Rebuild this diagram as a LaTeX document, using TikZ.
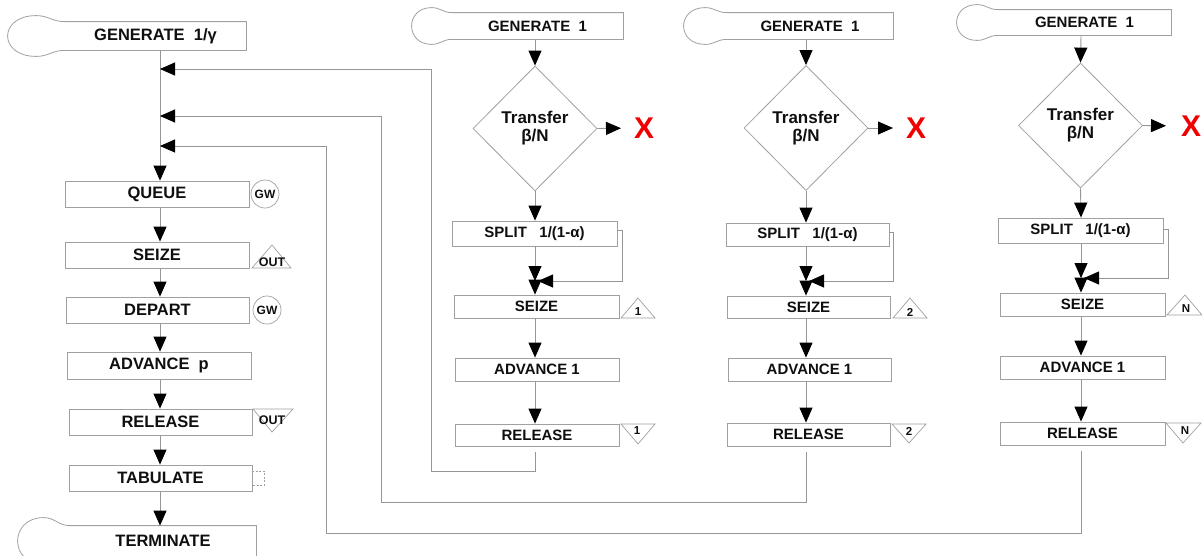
\documentclass[tikz,border=0pt]{standalone}
\usepackage{fontspec}
\setmainfont{Liberation Sans}
\usetikzlibrary{arrows.meta,shapes.geometric,calc}
\definecolor{lgray}{RGB}{150,150,150}
\definecolor{bgray}{RGB}{160,160,160}
\definecolor{tc}{RGB}{15,15,15}
\definecolor{xred}{RGB}{240,0,0}
% #1 node, #2 oval extension to the left, #3 rise of oval above/below box
\newcommand\genoutline[3]{%
  \draw[blkline] (#1.south west) -- (#1.south east) -- (#1.north east) -- (#1.north west)
    .. controls +(-0.22*#2,0) and +(0.22*#2,0) .. ($(#1.north west)+(-0.5*#2,-#3)$)
    .. controls +(-0.667*#2,0) and +(-0.667*#2,0) .. ($(#1.south west)+(-0.5*#2,#3)$)
    .. controls +(0.22*#2,0) and +(-0.22*#2,0) .. (#1.south west);}
\begin{document}
\begin{tikzpicture}[x=1pt,y=-1pt,
  ln/.style={draw=lgray,line width=0.9pt},
  arr/.style={ln,-{Triangle[length=15pt,width=13pt,color=black]}},
  blkline/.style={draw=bgray,line width=0.8pt},
  blk/.style={blkline,fill=white,inner sep=0pt,text=tc},
  mbox/.style={blk,font=\fontsize{16.5}{18}\selectfont\bfseries},
  cbox/.style={blk,font=\fontsize{15}{17}\selectfont\bfseries},
  mgen/.style={mbox,draw=none,fill=none},
  cgen/.style={cbox,draw=none,fill=none},
  dia/.style={blk,diamond,aspect=1,minimum width=124pt,minimum height=125pt,align=center,
    font=\fontsize{17}{18}\selectfont\bfseries},
  redx/.style={text=xred,font=\fontsize{30}{30}\selectfont\bfseries,inner sep=0pt},
  tag/.style={inner sep=0pt,text=tc,font=\fontsize{12.5}{12.5}\selectfont\bfseries},
  ntag/.style={inner sep=0pt,text=tc,font=\fontsize{11.5}{11.5}\selectfont\bfseries},
  tri/.style={draw=bgray,line width=0.7pt},
  gwc/.style={circle,draw=bgray,line width=0.7pt,minimum size=28pt,inner sep=0pt,text=tc,
    font=\fontsize{12}{12}\selectfont\bfseries},
]
\useasboundingbox (0,0) rectangle (1202,555);
\clip (0,0) rectangle (1202,555);

% ---------------- main column ----------------
\node[mgen,minimum width=181pt,minimum height=28pt] (gen) at (155.5,36) {GENERATE~~1/γ};
\genoutline{gen}{57}{6}
\node[mbox,minimum width=184pt,minimum height=26pt] (queue) at (157,194) {QUEUE};
\node[mbox,minimum width=184pt,minimum height=26pt] (seize) at (157,255) {SEIZE};
\node[mbox,minimum width=183pt,minimum height=26pt] (depart) at (157.5,310) {DEPART};
\node[mbox,minimum width=184pt,minimum height=27pt] (adv) at (159,365.5) {ADVANCE~~p};
\node[mbox,minimum width=183pt,minimum height=26pt] (rel) at (160.5,422) {RELEASE};
\node[mbox,minimum width=183pt,minimum height=26pt] (tab) at (160.5,478) {TABULATE};
\node[mgen,minimum width=186pt,minimum height=30pt] (term) at (163,541) {TERMINATE};
\genoutline{term}{52}{8}

\node[gwc] (gw1) at (265,194) {GW};
\node[gwc] (gw2) at (267,310) {GW};
\draw[tri] (252,268) -- (291,268) -- (272,245) -- cycle;
\node[tag] (out1) at (272,262) {OUT};
\draw[tri] (253,409) -- (293,409) -- (272,432) -- cycle;
\node[tag] (out2) at (272,420) {OUT};
\draw[draw=bgray,line width=0.6pt,dash pattern=on 2pt off 1.5pt]
  ($(tab.east)+(0,-7)$) -- ++(12,0) -- ++(0,14) -- ++(-12,0);

\coordinate (mx) at (160,0);
\coordinate (j1) at (160,69);
\coordinate (j2) at (160,116);
\coordinate (j3) at (160,146);

\draw[arr] (gen.south -| mx) -- (queue.north -| mx);
\draw[arr] (queue.south -| mx) -- (seize.north -| mx);
\draw[arr] (seize.south -| mx) -- (depart.north -| mx);
\draw[arr] (depart.south -| mx) -- (adv.north -| mx);
\draw[arr] (adv.south -| mx) -- (rel.north -| mx);
\draw[arr] (rel.south -| mx) -- (tab.north -| mx);
\draw[arr] (tab.south -| mx) -- (term.north -| mx);

% ---------------- column 1 ----------------
\coordinate (c1) at (535,0);
\node[cgen,minimum width=171pt,minimum height=26pt] (gen1) at (537.5,26) {GENERATE~~1};
\genoutline{gen1}{40}{5}
\node[dia] (dia1) at (535,128.5) {Transfer\\β/N};
\node[redx,anchor=west] (x1) at (634,128) {X};
\node[cbox,minimum width=165pt,minimum height=25pt] (split1) at (534.5,233.5) {SPLIT~~~1/(1-α)};
\node[cbox,minimum width=165pt,minimum height=23pt] (seize1) at (536.5,306.5) {SEIZE};
\node[cbox,minimum width=164pt,minimum height=23pt] (adv1) at (537,369.5) {ADVANCE 1};
\node[cbox,minimum width=164pt,minimum height=22pt] (rel1) at (537,435) {RELEASE};
\draw[tri] (621,318) -- (655,318) -- (638,298) -- cycle;
\node[ntag] (t1a) at (638,312) {1};
\draw[tri] (621,424) -- (655,424) -- (638,444) -- cycle;
\node[ntag] (t1b) at (637,431) {1};
\coordinate (m1) at (535,281);
\coordinate (l1) at (622,281);
\coordinate (r1) at (431,471);

\draw[arr] (gen1.south -| c1) -- (dia1.north);
\draw[arr,shorten >=13pt] (dia1.east) -- (x1.west);
\draw[arr] (dia1.south) -- (split1.north -| c1);
\draw[arr] (split1.south -| c1) -- (m1);
\draw[arr,shorten >=3pt] ($(split1.north east)+(0,10)$) -| (l1) -- (m1);
\draw[arr] (m1) -- (seize1.north -| c1);
\draw[arr] (seize1.south -| c1) -- (adv1.north -| c1);
\draw[arr] (adv1.south -| c1) -- (rel1.north -| c1);
\draw[arr,shorten <=6pt] (rel1.south -| c1) -- (c1 |- r1) -- (r1) -- (r1 |- j1) -- (j1);

% ---------------- column 2 ----------------
\coordinate (c2) at (806,0);
\node[cgen,minimum width=166pt,minimum height=26pt] (gen2) at (810,26) {GENERATE~~1};
\genoutline{gen2}{43}{5}
\node[dia] (dia2) at (806,128) {Transfer\\β/N};
\node[redx,anchor=west] (x2) at (906,128) {X};
\node[cbox,minimum width=163pt,minimum height=23pt] (split2) at (807.5,234.5) {SPLIT~~~1/(1-α)};
\node[cbox,minimum width=163pt,minimum height=22pt] (seize2) at (808.5,307) {SEIZE};
\node[cbox,minimum width=163pt,minimum height=23pt] (adv2) at (809.5,369.5) {ADVANCE 1};
\node[cbox,minimum width=163pt,minimum height=23pt] (rel2) at (808.5,434.5) {RELEASE};
\draw[tri] (893,318) -- (927,318) -- (910,298) -- cycle;
\node[ntag] (t2a) at (910,312) {2};
\draw[tri] (892,424) -- (926,424) -- (909,443) -- cycle;
\node[ntag] (t2b) at (909,431) {2};
\coordinate (m2) at (806,281);
\coordinate (l2) at (893,281);
\coordinate (r2) at (381,502);

\draw[arr] (gen2.south -| c2) -- (dia2.north);
\draw[arr,shorten >=13pt] (dia2.east) -- (x2.west);
\draw[arr] (dia2.south) -- (split2.north -| c2);
\draw[arr] (split2.south -| c2) -- (m2);
\draw[arr,shorten >=3pt] ($(split2.north east)+(0,10)$) -| (l2) -- (m2);
\draw[arr] (m2) -- (seize2.north -| c2);
\draw[arr] (seize2.south -| c2) -- (adv2.north -| c2);
\draw[arr] (adv2.south -| c2) -- (rel2.north -| c2);
\draw[arr,shorten <=6pt] (rel2.south -| c2) -- (c2 |- r2) -- (r2) -- (r2 |- j2) -- (j2);

% ---------------- column 3 ----------------
\coordinate (c3) at (1081,0);
\node[cgen,minimum width=173pt,minimum height=25pt] (gen3) at (1084.5,22.5) {GENERATE~~1};
\genoutline{gen3}{41}{5}
\node[dia] (dia3) at (1080.5,125.5) {Transfer\\β/N};
\node[redx,anchor=west] (x3) at (1181,126) {X};
\node[cbox,minimum width=165pt,minimum height=25pt] (split3) at (1080.5,230.5) {SPLIT~~~1/(1-α)};
\node[cbox,minimum width=165pt,minimum height=23pt] (seize3) at (1082.5,304.5) {SEIZE};
\node[cbox,minimum width=165pt,minimum height=23pt] (adv3) at (1082.5,367.5) {ADVANCE 1};
\node[cbox,minimum width=165pt,minimum height=23pt] (rel3) at (1082.5,433.5) {RELEASE};
\draw[tri] (1167,315) -- (1202,315) -- (1185,295) -- cycle;
\node[ntag] (t3a) at (1186,309) {N};
\draw[tri] (1166,423) -- (1201,423) -- (1183,443) -- cycle;
\node[ntag] (t3b) at (1185,431) {N};
\coordinate (m3) at (1081,278);
\coordinate (l3) at (1168,278);
\coordinate (r3) at (326,533);

\draw[arr] (gen3.south -| c3) -- (dia3.north);
\draw[arr,shorten >=15pt] (dia3.east) -- (x3.west);
\draw[arr] (dia3.south) -- (split3.north -| c3);
\draw[arr] (split3.south -| c3) -- (m3);
\draw[arr,shorten >=3pt] ($(split3.north east)+(0,12)$) -| (l3) -- (m3);
\draw[arr] (m3) -- (seize3.north -| c3);
\draw[arr] (seize3.south -| c3) -- (adv3.north -| c3);
\draw[arr] (adv3.south -| c3) -- (rel3.north -| c3);
\draw[arr,shorten <=6pt] (rel3.south -| c3) -- (c3 |- r3) -- (r3) -- (r3 |- j3) -- (j3);
\end{tikzpicture}
\end{document}
